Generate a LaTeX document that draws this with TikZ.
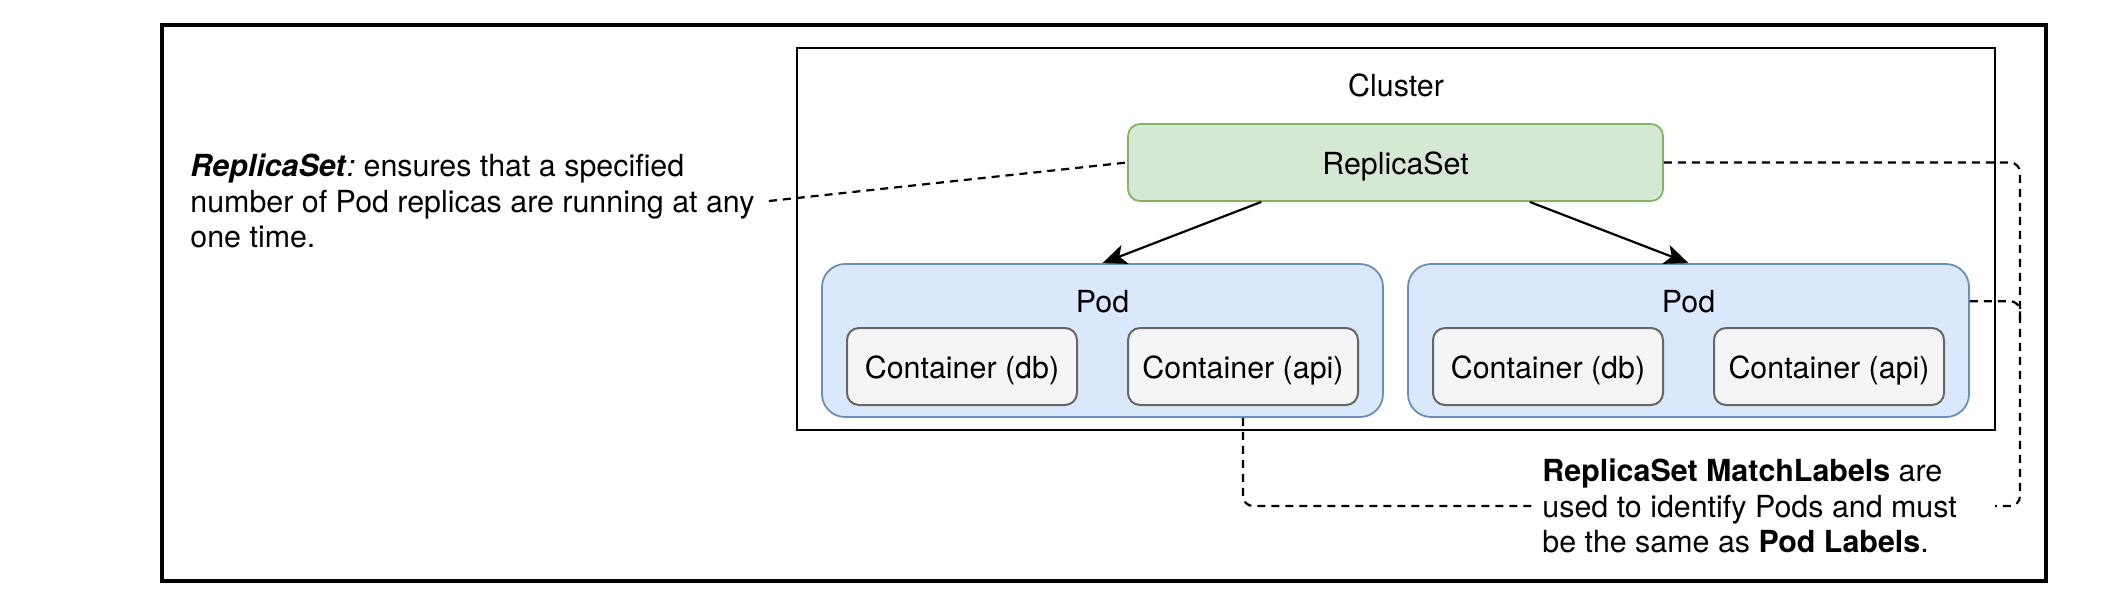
\documentclass[tikz,border=0pt]{standalone}
\usepackage{fontspec}
\setmainfont{TeX Gyre Heros}
\usetikzlibrary{arrows.meta,calc}
\definecolor{rsfill}{HTML}{D5E8D4}
\definecolor{rsdraw}{HTML}{82B366}
\definecolor{podfill}{HTML}{DAE8FC}
\definecolor{poddraw}{HTML}{6C8EBF}
\definecolor{ctfill}{HTML}{F5F5F5}
\definecolor{ctdraw}{HTML}{666666}
\begin{document}
\begin{tikzpicture}[x=0.5pt,y=-0.5pt,
  every node/.style={font=\fontsize{15.2}{17.75}\selectfont},
  frame/.style={draw, line width=1.7pt, inner sep=0, minimum width=942pt, minimum height=278pt},
  clusterbox/.style={draw, line width=1.15pt, inner sep=0, minimum width=599pt, minimum height=191pt},
  box/.style={draw, line width=0.9pt, text height=12pt, text depth=0.5pt, inner sep=0},
  rsbox/.style={box, fill=rsfill, draw=rsdraw, rounded corners=6pt, minimum width=267.5pt, minimum height=38.5pt},
  podbox/.style={draw=poddraw, fill=podfill, line width=0.9pt, rounded corners=11.5pt, minimum width=280.5pt, minimum height=76.5pt, inner sep=0},
  ctbox/.style={box, fill=ctfill, draw=ctdraw, line width=1pt, rounded corners=6pt, minimum width=115pt, minimum height=38.5pt},
  link/.style={draw, line width=1.1pt, dash pattern=on 4pt off 3pt, rounded corners=5pt},
  feed/.style={draw, line width=1.1pt, -{Stealth[length=12pt,width=10pt,inset=3pt]}},
  note/.style={align=left, inner ysep=0}
]
\useasboundingbox (0,0) rectangle (2120,602);

\node[frame] (outer) at (1104,303) {};
\node[clusterbox] (cluster) at (1396,239) {};
\node[anchor=base] (clusterlab) at (1396,96) {Cluster};

\node[rsbox] (rs) at (1395.5,162.5) {ReplicaSet};

\node[podbox] (pod1) at (1102.5,340.5) {};
\node[anchor=base] (pod1lab) at (1102.5,312) {Pod};
\node[ctbox] (db1) at (962,366.5) {Container (db)};
\node[ctbox] (api1) at (1243,366.5) {Container (api)};

\node[podbox] (pod2) at (1688.5,340.5) {};
\node[anchor=base] (pod2lab) at (1688.5,312) {Pod};
\node[ctbox] (db2) at (1548,366.5) {Container (db)};
\node[ctbox] (api2) at (1829,366.5) {Container (api)};

\node[note, anchor=west, inner xsep=7pt] (rsnote) at (176,201)
  {\textbf{\textit{ReplicaSet}}\textit{:}~ensures that a specified\\number of Pod replicas are running at any\\one time.};
\node[note, anchor=west, inner xsep=2.5pt] (mlnote) at (1537,506)
  {\textbf{ReplicaSet MatchLabels} are\\used to identify Pods and must\\be the same as \textbf{Pod Labels}.};

\coordinate (rail) at (2020,0);
\coordinate (mlR) at (1995,506);

\draw[feed] ($(rs.south west)!0.25!(rs.south east)$) -- (pod1.north);
\draw[feed] ($(rs.south west)!0.75!(rs.south east)$) -- (pod2.north);

\draw[link] (rsnote.east) -- (rs.west);
\draw[link] (rs.east) -- (rs.east -| rail) -- (rail |- mlR) -- (mlR);
\draw[link] (pod2.east |- pod2lab) -- (pod2lab -| rail) -- ++(0,24);
\draw[link] (api1.south |- pod1.south) -- (api1.south |- mlnote.west) -- (mlnote.west);
\end{tikzpicture}
\end{document}
